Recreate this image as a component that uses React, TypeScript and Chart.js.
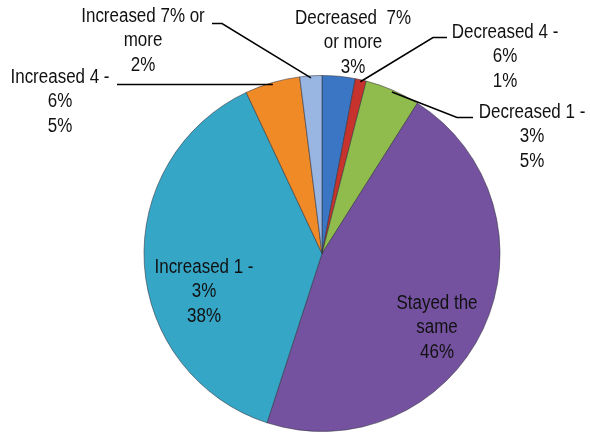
import React, { useEffect, useRef } from "react";
import { Chart, registerables } from "chart.js";

Chart.register(...registerables);

const CATEGORIES = [
  "Decreased 7% or more",
  "Decreased 4 - 6%",
  "Decreased 1 - 3%",
  "Stayed the same",
  "Increased 1 - 3%",
  "Increased 4 - 6%",
  "Increased 7% or more",
];
const VALUES = [3, 1, 5, 46, 38, 5, 2];
const LABEL_LINES = [
  ["Decreased  7%", "or more", "3%"],
  ["Decreased 4 -", "6%", "1%"],
  ["Decreased 1 -", "3%", "5%"],
  ["Stayed the", "same", "46%"],
  ["Increased 1 -", "3%", "38%"],
  ["Increased 4 -", "6%", "5%"],
  ["Increased 7% or", "more", "2%"],
];
const COLORS = ["#3a76c4", "#c8322c", "#8fbc4c", "#7452a0", "#36a6c7", "#f08a26", "#98b6e1"];

// label placement relative to pie centre (px): text centre x, first line y, leader start points
const LAYOUT = [
  { dx: 31, dy: -235, leader: null },
  { dx: 183, dy: -221, leader: [[125, -216], [111, -216]] },
  { dx: 210, dy: -141, leader: [[151, -136], [135, -136]] },
  { dx: 115, dy: 50, leader: null },
  { dx: -118, dy: 14, leader: null },
  { dx: -262, dy: -176, leader: [[-205, -169]] },
  { dx: -179, dy: -237, leader: [[-110, -230], [-100, -230]] },
];

const labelPlugin = {
  id: "pieLabels",
  afterDatasetsDraw(chart: any) {
    const ctx = chart.ctx;
    const meta = chart.getDatasetMeta(0);
    ctx.save();
    meta.data.forEach((arc: any, i: number) => {
      const p = arc.getProps(["x", "y", "startAngle", "endAngle", "outerRadius"], true);
      const cx = p.x, cy = p.y;
      const L = LAYOUT[i];
      if (L.leader) {
        const mid = (p.startAngle + p.endAngle) / 2;
        const ex = cx + Math.cos(mid) * (p.outerRadius - 2);
        const ey = cy + Math.sin(mid) * (p.outerRadius - 2);
        ctx.beginPath();
        ctx.strokeStyle = "#000";
        ctx.lineWidth = 1.5;
        L.leader.forEach((pt: number[], k: number) => {
          if (k === 0) ctx.moveTo(cx + pt[0], cy + pt[1]);
          else ctx.lineTo(cx + pt[0], cy + pt[1]);
        });
        ctx.lineTo(ex, ey);
        ctx.stroke();
      }
      ctx.fillStyle = "#111";
      ctx.font = '19.5px "Liberation Sans", Arial, sans-serif';
      ctx.textAlign = "center";
      ctx.textBaseline = "middle";
      LABEL_LINES[i].forEach((t, k) => {
        ctx.save();
        ctx.translate(cx + L.dx, cy + L.dy + k * 24.5);
        ctx.scale(0.87, 1);
        ctx.fillText(t, 0, 0);
        ctx.restore();
      });
    });
    ctx.restore();
  },
};

export default function App() {
  const ref = useRef<HTMLCanvasElement>(null);
  useEffect(() => {
    document.body.style.margin = "0";
    const chart = new Chart(ref.current!, {
      type: "pie",
      data: {
        labels: CATEGORIES,
        datasets: [
          {
            data: VALUES,
            backgroundColor: COLORS,
            borderColor: "rgba(50,50,60,0.55)",
            borderWidth: 1,
          },
        ],
      },
      options: {
        animation: false,
        responsive: false,
        layout: { padding: { top: 75, bottom: 2, left: 54, right: 0 } },
        plugins: { legend: { display: false }, tooltip: { enabled: false } },
      },
      plugins: [labelPlugin],
    });
    return () => chart.destroy();
  }, []);
  return (
    <div style={{ position: "fixed", left: 0, top: 0, width: 590, height: 434, background: "#fff" }}>
      <canvas ref={ref} width={590} height={434} />
    </div>
  );
}
